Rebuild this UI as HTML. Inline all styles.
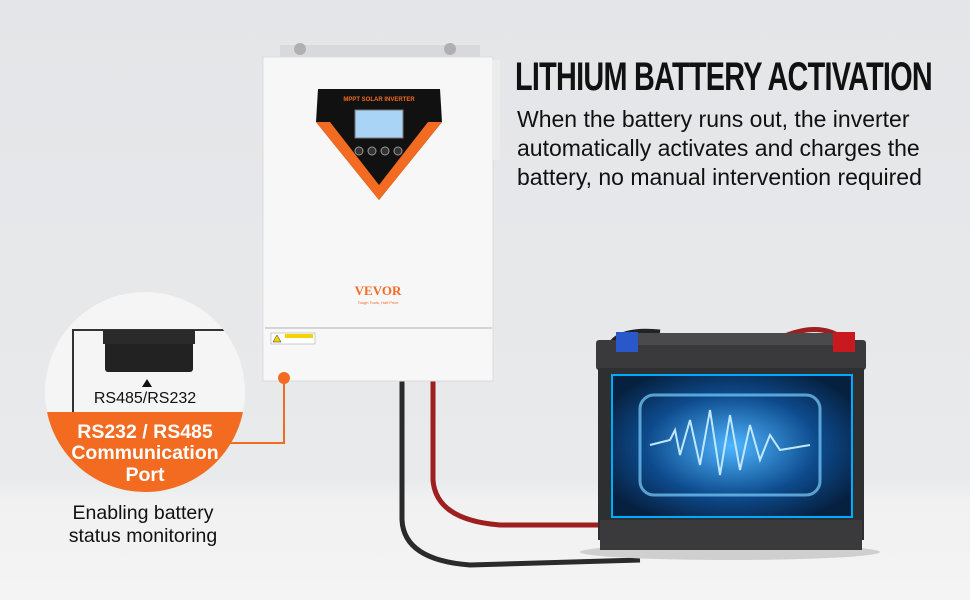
<!DOCTYPE html>
<html><head><style>
body{margin:0}
.w{position:relative;width:970px;height:600px;overflow:hidden;background:linear-gradient(#e4e5e8 0,#e9eaec 480px,#f1f1f2 500px,#f4f4f4 600px);font-family:"Liberation Sans",sans-serif}
</style></head><body><div class="w">
<svg width="970" height="600" style="position:absolute;left:0;top:0">
<defs>
<radialGradient id="bg1" cx="50%" cy="50%" r="60%"><stop offset="0" stop-color="#4fb6ff"/><stop offset="0.6" stop-color="#0d4a8c"/><stop offset="1" stop-color="#06203f"/></radialGradient>
<clipPath id="cc"><circle cx="145" cy="392" r="100"/></clipPath>
</defs>
<path d="M402 380 L402 520 Q404 560 470 565 L640 560" stroke="#2a2a2a" stroke-width="5" fill="none"/>
<path d="M433 380 L433 480 Q436 520 500 525 L605 525" stroke="#9d1f1f" stroke-width="5" fill="none"/>
<path d="M610 345 Q620 328 660 332" stroke="#222" stroke-width="5" fill="none"/>
<path d="M780 338 Q820 320 845 340" stroke="#9d1f1f" stroke-width="5" fill="none"/>
<rect x="280" y="45" width="200" height="14" fill="#d8d9dc"/>
<circle cx="300" cy="49" r="6" fill="#b0b0b0"/><circle cx="450" cy="49" r="6" fill="#b0b0b0"/>
<rect x="263" y="57" width="230" height="324" fill="#f7f7f7" stroke="#dcdcdc"/>
<rect x="492" y="60" width="8" height="100" fill="#ececec"/>
<line x1="265" y1="328" x2="492" y2="328" stroke="#d5d5d5" stroke-width="2"/>
<polygon points="318,89 440,89 442,122 379,200 316,122" fill="#111"/>
<polygon points="316,122 330,122 379,185 428,122 442,122 379,200" fill="#f26b21"/>
<text x="379" y="101" font-size="6" fill="#f26b21" text-anchor="middle" font-weight="bold">MPPT SOLAR INVERTER</text>
<rect x="355" y="110" width="48" height="28" fill="#a9d4f5" stroke="#777"/>
<circle cx="359" cy="151" r="4" fill="#333" stroke="#999"/><circle cx="372" cy="151" r="4" fill="#333" stroke="#999"/><circle cx="385" cy="151" r="4" fill="#333" stroke="#999"/><circle cx="398" cy="151" r="4" fill="#333" stroke="#999"/>
<text x="378" y="295" font-size="13" fill="#f26b21" text-anchor="middle" font-weight="bold" font-family="Liberation Serif">VEVOR</text>
<text x="378" y="304" font-size="4" fill="#f26b21" text-anchor="middle">Tough Tools, Half Price</text>
<rect x="271" y="333" width="44" height="11" fill="#fff" stroke="#999" stroke-width=".5"/>
<rect x="285" y="334" width="28" height="4" fill="#f5d200"/>
<polygon points="273,342 277,335 281,342" fill="#f5d200" stroke="#333" stroke-width=".5"/>
<circle cx="284" cy="378" r="6" fill="#f26b21"/>
<path d="M284 378 V443 H230" stroke="#f26b21" stroke-width="2" fill="none"/>
<g clip-path="url(#cc)">
<rect x="40" y="290" width="220" height="220" fill="#f5f5f5"/>
<path d="M72 330 H225" stroke="#333" stroke-width="2"/>
<path d="M73 330 V420" stroke="#333" stroke-width="2"/>
<rect x="105" y="332" width="88" height="40" rx="3" fill="#222"/>
<rect x="103" y="330" width="92" height="14" fill="#2a2a2a"/>
<polygon points="147,379 142,387 152,387" fill="#111"/>
<text x="145" y="403" font-size="16" fill="#111" text-anchor="middle">RS485/RS232</text>
<rect x="40" y="412" width="220" height="100" fill="#f26b21"/>
</g>
<text x="145" y="438" font-size="19.5" fill="#fff" text-anchor="middle" font-weight="bold">RS232 / RS485</text>
<text x="145" y="459" font-size="19.5" fill="#fff" text-anchor="middle" font-weight="bold">Communication</text>
<text x="145" y="481" font-size="19.5" fill="#fff" text-anchor="middle" font-weight="bold">Port</text>
<text x="143" y="519" font-size="19.5" fill="#111" text-anchor="middle">Enabling battery</text>
<text x="143" y="542" font-size="19.5" fill="#111" text-anchor="middle">status monitoring</text>
<ellipse cx="730" cy="552" rx="150" ry="8" fill="#cfcfcf"/>
<rect x="596" y="340" width="270" height="30" rx="3" fill="#3a3a3c"/>
<rect x="620" y="333" width="220" height="12" fill="#4a4a4c"/>
<rect x="616" y="332" width="22" height="20" fill="#2a57c9"/>
<rect x="833" y="332" width="22" height="20" fill="#c8191e"/>
<rect x="598" y="368" width="266" height="172" fill="#2e2f31"/>
<rect x="612" y="375" width="240" height="142" fill="url(#bg1)" stroke="#0af" stroke-width="2"/>
<rect x="640" y="395" width="180" height="100" rx="14" fill="none" stroke="#7ad0ff" stroke-width="3" opacity=".7"/>
<path d="M650 445 L670 440 675 430 680 455 690 420 700 465 710 410 720 475 730 415 740 470 750 425 760 460 770 435 780 450 810 445" stroke="#bfe8ff" stroke-width="2" fill="none"/>
<rect x="600" y="520" width="262" height="30" fill="#3a3a3c"/>
</svg>
<div style="position:absolute;left:515px;top:55px;font-size:40px;font-weight:bold;color:#111;letter-spacing:-1px;transform:scaleX(.72);transform-origin:0 0;white-space:nowrap">LITHIUM BATTERY ACTIVATION</div>
<div style="position:absolute;left:517px;top:105px;font-size:23px;line-height:29px;color:#111;white-space:nowrap">When the battery runs out, the inverter<br>automatically activates and charges the<br>battery, no manual intervention required</div>
</div></body></html>
